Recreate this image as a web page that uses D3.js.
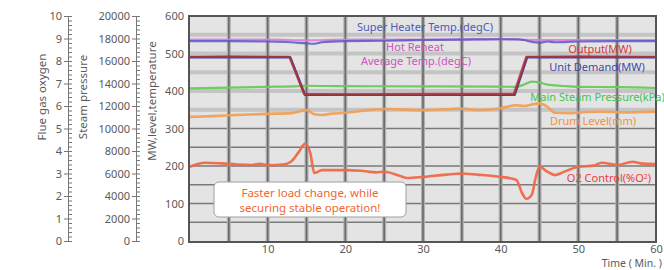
<!DOCTYPE html>
<html>
<head>
<meta charset="utf-8">
<script src="https://cdn.jsdelivr.net/npm/d3@7"></script>
<style>
  body { margin: 0; background: #fff; }
  svg { display: block; font-family: "Noto Sans", "Open Sans", sans-serif; }
</style>
</head>
<body>
<svg id="chart" width="664" height="270"></svg>
<script>
// time in minutes, values in each series' own unit
const superHeater = [[0,533],[5,533],[10,532],[13,530],[15,527],[16,526],[17,530],[20,533],[25,534],[30,536],[35,537],[40,538],[42,538],[43,536],[44,531],[45,529],[46,532],[47,530],[50,532],[55,533],[60,533]]
const hotReheat = [[0,537],[10,537],[15,535],[20,537],[30,537],[40,538],[45,536],[50,536],[60,536]]
const output = [[0,491],[5,492],[12.8,491],[14.7,392],[20,391],[30,392],[41.7,392],[43.3,491],[50,492],[60,491]]
const unitDemand = [[0,490],[12.9,490],[14.8,390],[30,390],[41.8,390],[43.4,490],[60,490]]
const mainSteam = [[0,13570],[5,13630],[10,13700],[14,13770],[15,13800],[20,13760],[30,13750],[40,13720],[42,13700],[43,13900],[44,14170],[45,14100],[46,13900],[48,13780],[50,13700],[55,13680],[60,13600]]
const drumLevel = [[0,331],[3,333],[6,336],[10,339],[13,341],[14,345],[15,349],[16,338],[17,336],[18,339],[20,342],[23,349],[25,352],[28,350],[30,349],[33,351],[35,353],[37,349],[40,354],[42,362],[43,360],[44,364],[45,367],[46,358],[47,342],[49,341],[51,344],[53,345],[56,343],[60,345]]
const o2 = [[0,3.30],[1,3.42],[2,3.48],[4,3.45],[6,3.40],[8,3.38],[9,3.43],[10,3.37],[12,3.40],[13,3.52],[14,3.95],[14.8,4.32],[15.5,3.9],[16,3.02],[17,3.15],[20,3.15],[22,3.12],[24,3.05],[25,3.08],[27,2.9],[28,2.8],[30,2.85],[33,2.95],[35,3.0],[37,2.95],[40,2.85],[42,2.72],[42.8,2.1],[43.3,1.87],[44,2.05],[44.5,2.8],[45,3.30],[46,3.08],[47,2.93],[48,3.05],[50,3.30],[52,3.35],[53,3.48],[55,3.38],[57,3.52],[58,3.45],[60,3.42]]

const xTicks = [10, 20, 30, 40, 50, 60]

const svg = d3.select("#chart")
const plotLeft = 190, plotRight = 656, plotTop = 16, plotBottom = 241

const x = d3.scaleLinear().domain([0, 60]).range([plotLeft, plotRight])
const y = d3.scaleLinear().domain([0, 600]).range([plotBottom, plotTop])
const yO2 = d3.scaleLinear().domain([0, 10]).range([plotBottom, plotTop])
const ySteam = d3.scaleLinear().domain([0, 20000]).range([plotBottom, plotTop])

const grey = "#5a5a5a"

// plot background
svg.append("rect")
    .attr("x", plotLeft - 1).attr("y", plotTop).attr("width", plotRight - plotLeft + 1).attr("height", plotBottom - plotTop + 1)
    .attr("fill", "#e4e4e4")

const grid = svg.append("g")
d3.range(50, 600, 50).forEach(v => {
    const upper = v > 300
    grid.append("line")
        .attr("x1", plotLeft).attr("x2", plotRight)
        .attr("y1", y(v)).attr("y2", y(v))
        .attr("stroke", upper ? "#c4c4c4" : "#7a7a7a")
        .attr("stroke-width", upper ? 4 : 1.6)
})
d3.range(5, 60, 5).forEach(t => {
    grid.append("line")
        .attr("x1", x(t)).attr("x2", x(t)).attr("y1", plotTop).attr("y2", plotBottom)
        .attr("stroke", "#b0b0b0").attr("stroke-width", 4)
    grid.append("line")
        .attr("x1", x(t)).attr("x2", x(t)).attr("y1", plotTop).attr("y2", plotBottom)
        .attr("stroke", "#6a6a6a").attr("stroke-width", 1.6)
})

const lineOf = scale => d3.line().x(d => x(d[0])).y(d => scale(d[1])).curve(d3.curveMonotoneX)
const linear = scale => d3.line().x(d => x(d[0])).y(d => scale(d[1]))

const series = [
    { data: hotReheat, path: lineOf(y), color: "#d27fd6", w: 2.2, op: 0.9 },
    { data: superHeater, path: lineOf(y), color: "#5b58c4", w: 2.2, op: 0.85 },
    { data: mainSteam, path: lineOf(ySteam), color: "#6cc85e", w: 2.2, op: 0.95 },
    { data: drumLevel, path: lineOf(y), color: "#f0a058", w: 2.6, op: 0.95 },
    { data: unitDemand, path: linear(y), color: "#4a3c98", w: 2.4, op: 1 },
    { data: output, path: linear(y), color: "#b8342e", w: 2.4, op: 0.8 },
    { data: o2, path: lineOf(yO2), color: "#f06848", w: 2.6, op: 0.95 }
]

svg.append("g").selectAll("path").data(series).join("path")
    .attr("d", s => s.path(s.data))
    .attr("fill", "none")
    .attr("stroke", s => s.color)
    .attr("stroke-width", s => s.w)
    .attr("stroke-opacity", s => s.op)
    .attr("stroke-linejoin", "round")

// frame
svg.append("rect")
    .attr("x", plotLeft - 1).attr("y", plotTop).attr("width", plotRight - plotLeft + 1).attr("height", plotBottom - plotTop + 1)
    .attr("fill", "none").attr("stroke", "#555").attr("stroke-width", 2)

// series labels
const labels = [
    { text: "Super Heater Temp.(degC)", x: 425, y: 31, color: "#4a5bb8" },
    { text: "Hot Reheat", x: 415, y: 51, color: "#cc55bb" },
    { text: "Average Temp.(degC)", x: 416, y: 64.5, color: "#cc55bb" },
    { text: "Output(MW)", x: 600, y: 53, color: "#d03838" },
    { text: "Unit Demand(MW)", x: 597, y: 70.5, color: "#3a4aa8" },
    { text: "Main Steam Pressure(kPa)", x: 597.5, y: 100.5, color: "#4cc04c" },
    { text: "Drum Level(mm)", x: 593, y: 124.5, color: "#f39040" }
]
svg.append("g").selectAll("text").data(labels).join("text")
    .attr("x", d => d.x).attr("y", d => d.y)
    .attr("text-anchor", "middle")
    .attr("font-size", 11)
    .attr("fill", d => d.color)
    .text(d => d.text)

const o2Label = svg.append("text")
    .attr("x", 609).attr("y", 182)
    .attr("text-anchor", "middle").attr("font-size", 11).attr("fill", "#e8403a")
o2Label.append("tspan").text("O2 Control(%O")
o2Label.append("tspan").attr("font-size", 7).attr("dy", -3).text("2")
o2Label.append("tspan").attr("dy", 3).text(")")

// callout
svg.append("rect")
    .attr("x", 214).attr("y", 182).attr("width", 192).attr("height", 35).attr("rx", 5)
    .attr("fill", "#fff").attr("stroke", "#a0a0a0").attr("stroke-width", 1)
svg.append("g").selectAll("text").data(["Faster load change, while", "securing stable operation!"]).join("text")
    .attr("x", 310).attr("y", (d, i) => 196.5 + i * 15)
    .attr("text-anchor", "middle").attr("font-size", 11.5).attr("fill", "#f26430")
    .text(d => d)

// axes
const styleAxis = g => {
    g.selectAll("text").attr("fill", grey).attr("font-size", 11).attr("font-family", "Noto Sans, sans-serif")
    g.selectAll("line").attr("stroke", "#777")
    g.select(".domain").attr("stroke", "#777")
}

const o2Axis = 68, steamAxis = 136
svg.append("g").attr("transform", `translate(${o2Axis},0)`)
    .call(d3.axisLeft(yO2).ticks(10).tickSize(4).tickPadding(2).tickSizeOuter(0))
    .call(styleAxis)
svg.append("g").attr("transform", `translate(${o2Axis},0)`)
    .call(d3.axisRight(yO2).tickValues(d3.range(0, 10.01, 0.2)).tickSize(4).tickSizeOuter(0).tickFormat(""))
    .call(styleAxis)

svg.append("g").attr("transform", `translate(${steamAxis},0)`)
    .call(d3.axisLeft(ySteam).ticks(10).tickFormat(d3.format("d")).tickSize(4).tickPadding(2).tickSizeOuter(0))
    .call(styleAxis)
svg.append("g").attr("transform", `translate(${steamAxis},0)`)
    .call(d3.axisRight(ySteam).tickValues(d3.range(0, 20001, 400)).tickSize(4).tickSizeOuter(0).tickFormat(""))
    .call(styleAxis)

svg.append("g").attr("transform", `translate(${plotLeft - 1},0)`)
    .call(d3.axisLeft(y).ticks(6).tickSize(0).tickPadding(5))
    .call(styleAxis)
    .call(g => g.select(".domain").remove())

svg.append("g").attr("transform", `translate(0,${plotBottom})`)
    .call(d3.axisBottom(x).tickValues(xTicks).tickSize(0).tickPadding(4))
    .call(styleAxis)
    .call(g => g.select(".domain").remove())

const titles = [
    { text: "Flue gas oxygen", x: 42, y: 97 },
    { text: "Steam pressure", x: 83, y: 97 },
    { text: "MW,level,temperature", x: 152, y: 101 }
]
svg.append("g").selectAll("text").data(titles).join("text")
    .attr("transform", d => `translate(${d.x + 4},${d.y}) rotate(-90)`)
    .attr("text-anchor", "middle").attr("font-size", 11.5).attr("fill", grey)
    .text(d => d.text)

svg.append("text")
    .attr("x", 662).attr("y", 267).attr("text-anchor", "end")
    .attr("font-size", 10.5).attr("fill", grey)
    .text("Time ( Min. )")
</script>
</body>
</html>
